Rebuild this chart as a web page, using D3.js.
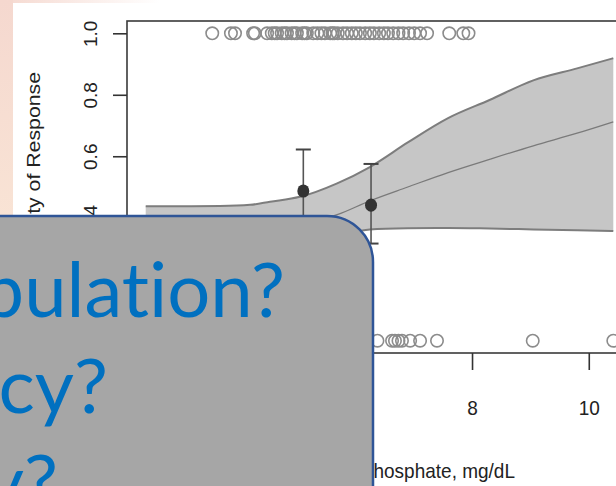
<!DOCTYPE html>
<html>
<head>
<meta charset="utf-8">
<script src="https://cdn.jsdelivr.net/npm/d3@7"></script>
<style>
  html, body { margin: 0; padding: 0; background: #fff; }
  svg { display: block; }
  .callout text { font-variant-ligatures: none; font-feature-settings: "liga" 0; }
</style>
</head>
<body>
<div id="chart"></div>
<script>
// phosphate of responders (plotted at 1) and non-responders (plotted at 0)
const responders = [3.55, 3.87, 3.94, 4.25, 4.28, 4.49, 4.57, 4.62, 4.66, 4.74, 4.79, 4.83, 4.91, 4.96,
  5.0, 5.09, 5.13, 5.17, 5.28, 5.35, 5.42, 5.48, 5.57, 5.61, 5.64, 5.7, 5.79, 5.86, 5.94, 6.01,
  6.08, 6.17, 6.25, 6.32, 6.41, 6.49, 6.56, 6.65, 6.74, 6.82, 6.92, 7.01, 7.11, 7.23, 7.61, 7.85, 7.94];
const nonResponders = [2.41, 2.9, 3.3, 3.6, 3.8, 4.1, 4.3, 4.6, 4.9, 5.2, 5.5, 5.8, 6.0, 6.2,
  6.38, 6.63, 6.68, 6.74, 6.8, 6.94, 7.11, 7.4, 9.04, 10.42];

// fitted probability with confidence band
const fitX = [2.41, 3.0, 3.68, 4.2, 4.54, 5.05, 5.69, 6.25, 6.9, 7.59, 8.3, 9.05, 9.8, 10.42];
const fitMid = [0.30, 0.315, 0.335, 0.35, 0.36, 0.38, 0.41, 0.455, 0.50, 0.547, 0.59, 0.634, 0.675, 0.712];
const fitLow = [0.17, 0.20, 0.24, 0.27, 0.29, 0.315, 0.34, 0.362, 0.366, 0.367, 0.365, 0.362, 0.359, 0.357];
const fitHigh = [0.437, 0.437, 0.438, 0.442, 0.452, 0.468, 0.512, 0.565, 0.645, 0.724, 0.783, 0.847, 0.886, 0.919];

// grouped observed proportions with error bars
const groupX = [5.11, 6.27];
const groupP = [0.487, 0.441];
const groupLo = [0.352, 0.316];
const groupHi = [0.622, 0.575];

const yTicks = [0, 0.2, 0.4, 0.6, 0.8, 1.0];
const xTicks = [4, 6, 8, 10];
const overlayLines = ["Target population?", "Efficacy?", "Safety?"];

const W = 616, H = 486;
const svg = d3.select("#chart").append("svg").attr("width", W).attr("height", H);

const defs = svg.append("defs");
const gLeft = defs.append("linearGradient").attr("id", "bgLeft")
  .attr("x1", 0).attr("y1", 0).attr("x2", 0).attr("y2", 1);
gLeft.append("stop").attr("offset", 0).attr("stop-color", "#f5d8cf");
gLeft.append("stop").attr("offset", 1).attr("stop-color", "#fdf1dc");
const gTop = defs.append("linearGradient").attr("id", "bgTop")
  .attr("x1", 0).attr("y1", 0).attr("x2", 1).attr("y2", 0);
gTop.append("stop").attr("offset", 0).attr("stop-color", "#f5d8cf");
gTop.append("stop").attr("offset", 1).attr("stop-color", "#ffffff");

svg.append("rect").attr("x", 0).attr("y", 0).attr("width", 160).attr("height", 4).attr("fill", "url(#bgTop)");
svg.append("rect").attr("x", 0).attr("y", 0).attr("width", 13).attr("height", H).attr("fill", "url(#bgLeft)");
svg.append("rect").attr("x", 13).attr("y", 3).attr("width", W - 13).attr("height", H - 3).attr("fill", "#fff");

// R style: 4% padding on both axes
const allX = responders.concat(nonResponders);
const [xmin, xmax] = d3.extent(allX);
const pad = (xmax - xmin) * 0.04;
const x = d3.scaleLinear().domain([xmin - pad, xmax + pad]).range([127, 632]);
const y = d3.scaleLinear().domain([-0.04, 1.04]).range([353, 21]);

const fit = fitX.map((v, i) => ({ x: v, mid: fitMid[i], lo: fitLow[i], hi: fitHigh[i] }));

svg.append("path")
  .datum(fit)
  .attr("d", d3.area().x(d => x(d.x)).y0(d => y(d.lo)).y1(d => y(d.hi)).curve(d3.curveMonotoneX))
  .attr("fill", "#c6c6c6");

const edge = key => d3.line().x(d => x(d.x)).y(d => y(d[key])).curve(d3.curveMonotoneX);
svg.append("path").datum(fit).attr("d", edge("hi")).attr("fill", "none").attr("stroke", "#7d7d7d").attr("stroke-width", 2);
svg.append("path").datum(fit).attr("d", edge("lo")).attr("fill", "none").attr("stroke", "#7d7d7d").attr("stroke-width", 2);
svg.append("path").datum(fit).attr("d", edge("mid")).attr("fill", "none").attr("stroke", "#7a7a7a").attr("stroke-width", 1.3);

// rug circles
const rug = svg.append("g").attr("fill", "none").attr("stroke", "#8c8c8c").attr("stroke-width", 1.6);
rug.selectAll("circle.top").data(responders).enter().append("circle")
  .attr("cx", d => x(d)).attr("cy", y(1)).attr("r", 6.2);
rug.selectAll("circle.bot").data(nonResponders).enter().append("circle")
  .attr("cx", d => x(d)).attr("cy", y(0)).attr("r", 6.2);

// error bars
const groups = groupX.map((v, i) => ({ x: v, p: groupP[i], lo: groupLo[i], hi: groupHi[i] }));
const eb = svg.append("g").selectAll("g").data(groups).enter().append("g");
eb.append("line").attr("x1", d => x(d.x)).attr("x2", d => x(d.x))
  .attr("y1", d => y(d.lo)).attr("y2", d => y(d.hi)).attr("stroke", "#555").attr("stroke-width", 1.6);
["hi", "lo"].forEach(k => {
  eb.append("line").attr("x1", d => x(d.x) - 7.5).attr("x2", d => x(d.x) + 7.5)
    .attr("y1", d => y(d[k])).attr("y2", d => y(d[k])).attr("stroke", "#444").attr("stroke-width", 2);
});
eb.append("ellipse").attr("cx", d => x(d.x)).attr("cy", d => y(d.p)).attr("rx", 6).attr("ry", 6.6).attr("fill", "#333");

// box and axes
svg.append("rect").attr("x", 127).attr("y", 21).attr("width", 505).attr("height", 332)
  .attr("fill", "none").attr("stroke", "#3a3a3a").attr("stroke-width", 1.6);

const font = "'Liberation Sans', Arial, sans-serif";

svg.append("g").attr("transform", "translate(127,0)")
  .call(d3.axisLeft(y).tickValues(yTicks).tickSize(14).tickSizeOuter(0).tickFormat(d3.format(".1f")))
  .call(g => g.select(".domain").remove())
  .call(g => g.selectAll("line").attr("stroke", "#333").attr("stroke-width", 1.6))
  .call(g => g.selectAll("text")
    .attr("x", 0).attr("y", -30).attr("dy", null)
    .attr("transform", "rotate(-90)").attr("text-anchor", "middle")
    .attr("font-family", font).attr("font-size", 19).attr("fill", "#222"));

svg.append("g").attr("transform", "translate(0,353)")
  .call(d3.axisBottom(x).tickValues(xTicks).tickSize(17).tickSizeOuter(0))
  .call(g => g.select(".domain").remove())
  .call(g => g.selectAll("line").attr("stroke", "#333").attr("stroke-width", 1.6))
  .call(g => g.selectAll("text")
    .attr("y", 0).attr("dy", null).attr("transform", "translate(0,61.5) scale(1,1.1)")
    .attr("font-family", font).attr("font-size", 19).attr("fill", "#222"));

svg.append("text")
  .attr("transform", "translate(39.5,72) rotate(-90) scale(1.12,1)")
  .attr("text-anchor", "end").attr("font-family", font).attr("font-size", 19).attr("fill", "#222")
  .text("Probability of Response");

svg.append("text")
  .attr("transform", "translate(515,478) scale(1,1.1)")
  .attr("text-anchor", "end").attr("font-family", font).attr("font-size", 19).attr("fill", "#222")
  .text("Phosphate, mg/dL");

// overlay callout
const callout = svg.append("g").attr("class", "callout");
callout.append("rect").attr("x", -60).attr("y", 216).attr("width", 433).attr("height", 340).attr("rx", 46)
  .attr("fill", "#a6a6a6").attr("stroke", "#2f5597").attr("stroke-width", 2.5);

const lineRight = [285, 108, 58];
const lineBase = [317, 413, 509];
callout.selectAll("text").data(overlayLines).enter().append("text")
  .attr("x", (d, i) => lineRight[i]).attr("y", (d, i) => lineBase[i])
  .attr("text-anchor", "end").attr("font-family", "Lato, 'Open Sans', sans-serif")
  .attr("font-size", 76).attr("fill", "#0070c0")
  .text(d => d);
</script>
</body>
</html>
